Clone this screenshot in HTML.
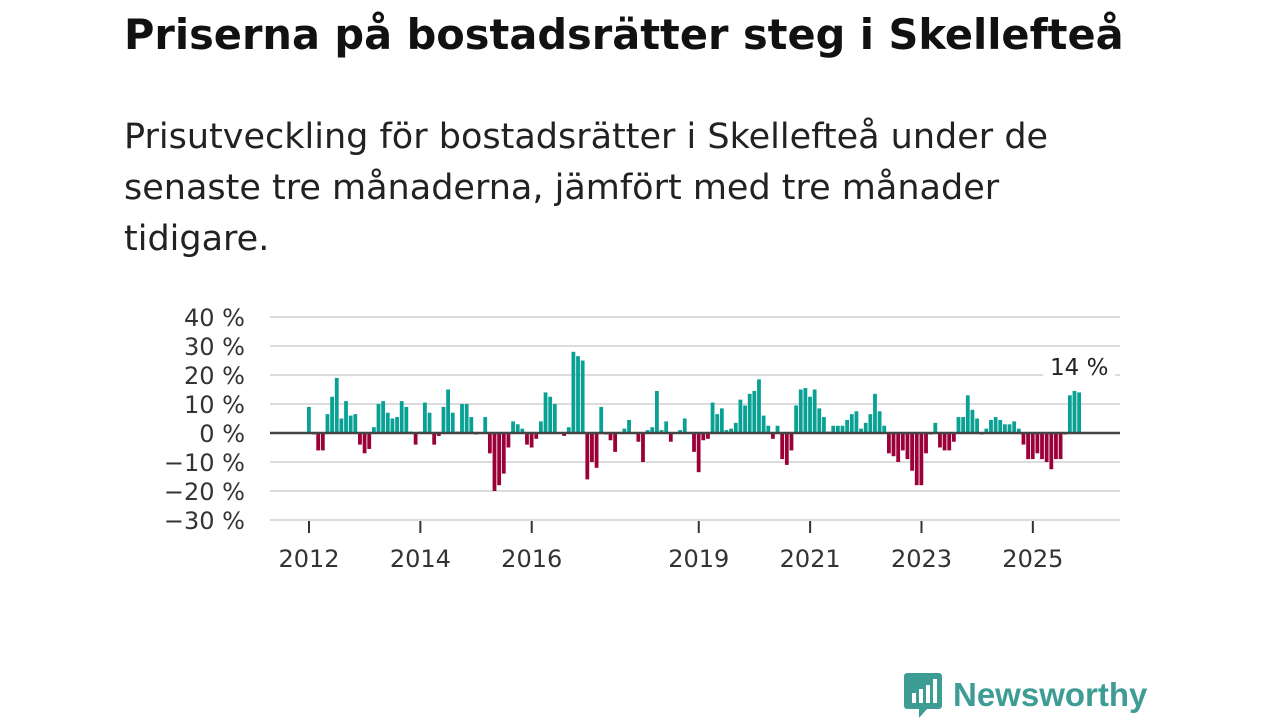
<!DOCTYPE html>
<html><head><meta charset="utf-8">
<style>
body{margin:0;width:1280px;height:720px;background:#fff;overflow:hidden;font-family:"DejaVu Sans","Liberation Sans",sans-serif;}
#title{position:absolute;left:124px;top:10px;font-size:41.5px;font-weight:bold;color:#111;margin:0;white-space:nowrap}
#sub{position:absolute;left:124px;top:112px;font-size:35px;line-height:51px;color:#222;margin:0;white-space:nowrap}
svg{position:absolute;left:0;top:0}
#logo{position:absolute;left:903px;top:671px;display:flex;align-items:center}
#logo span{font-size:33px;font-weight:bold;color:#3d9c93;margin-left:10px;font-family:"Liberation Sans",sans-serif}
</style></head><body>
<h1 id="title">Priserna på bostadsrätter steg i Skellefteå</h1>
<p id="sub">Prisutveckling för bostadsrätter i Skellefteå under de<br>senaste tre månaderna, jämfört med tre månader<br>tidigare.</p>
<svg id="chart" width="1280" height="720"></svg>
<div id="logo">
<svg width="40" height="48" style="position:static"><path d="M4 2h32a3 3 0 0 1 3 3v30a3 3 0 0 1-3 3H24l-8 9v-9H4a3 3 0 0 1-3-3V5a3 3 0 0 1 3-3z" fill="#3d9c93"/><rect x="9" y="22" width="4" height="10" fill="#fff"/><rect x="16" y="18" width="4" height="14" fill="#fff"/><rect x="23" y="14" width="4" height="18" fill="#fff"/><rect x="30" y="8" width="4" height="24" fill="#fff"/></svg>
<span>Newsworthy</span></div>
<script>
const values=[9,-0.5,-6,-6,6.5,12.5,19,5,11,6,6.5,-4,-7,-5.5,2,10,11,7,5,5.5,11,9,0.5,-4,0.5,10.5,7,-4,-1,9,15,7,0.5,10,10,5.5,-0.5,0,5.5,-7,-20,-18,-14,-5,4,3,1.5,-4,-5,-2,4,14,12.5,10,0,-1,2,28,26.5,25,-16,-10,-12,9,-0.5,-2.5,-6.5,0,1.5,4.5,0,-3,-10,1,2,14.5,1,4,-3,0,1,5,0,-6.5,-13.5,-2.5,-2,10.5,6.5,8.5,1,1.5,3.5,11.5,9.5,13.5,14.5,18.5,6,2.5,-2,2.5,-9,-11,-6,9.5,15,15.5,12.5,15,8.5,5.5,0.5,2.5,2.5,2.5,4.5,6.5,7.5,1.5,3.5,6.5,13.5,7.5,2.5,-7,-8,-10,-6,-9,-13,-18,-18,-7,-0.5,3.5,-5,-6,-6,-3,5.5,5.5,13,8,5,-0.5,1.5,4.5,5.5,4.5,3,3,4,1.5,-4,-9,-9,-7,-9,-10,-12.5,-9,-9,-0.5,13,14.5,14];
const yTicks=[40,30,20,10,0,-10,-20,-30];
const xYears=[2012,2014,2016,2019,2021,2023,2025];
const startYear=2012;
const svg=document.getElementById('chart');
const NS='http://www.w3.org/2000/svg';
const y=v=>433-v*2.9;
const x=i=>309+i*4.64;
const FONT='DejaVu Sans, Liberation Sans, sans-serif';
function mk(t,a){const e=document.createElementNS(NS,t);for(const k in a)e.setAttribute(k,a[k]);svg.appendChild(e);return e;}
yTicks.forEach(t=>{
 const l=mk('line',{x1:270,x2:1120,y1:y(t),y2:y(t),stroke:'#dcdcdc','stroke-width':2});
 
 
 const tx=mk('text',{x:245,y:y(t)+9,'text-anchor':'end','font-size':24,fill:'#333','font-family':FONT});
 tx.textContent=(t<0?'\u2212'+(-t):t)+' %';
 
 
});
values.forEach((v,i)=>{
 const r=mk('rect',{x:x(i)-2,width:3.8,y:Math.min(y(v),433),height:Math.abs(y(v)-433),fill:v>=0?'#0aa195':'#9b0039'});
 
 
});
const z=mk('line',{x1:270,x2:1120,y1:433,y2:433,stroke:'#444','stroke-width':2.5});


xYears.forEach(yr=>{
 const px=x((yr-startYear)*12);
 const tk=mk('line',{x1:px,x2:px,y1:521,y2:533,stroke:'#333','stroke-width':2});
 
 
 const tx=mk('text',{x:px,y:567,'text-anchor':'middle','font-size':24,fill:'#333','font-family':FONT});
 tx.textContent=yr;
 
 
});
const last=values.length-1;
const bg=mk('rect',{x:x(last)-36,y:352,width:72,height:26,fill:'#fff'});


const lab=mk('text',{x:x(last),y:375,'text-anchor':'middle','font-size':23,fill:'#222','font-family':FONT});
lab.textContent=Math.round(values[last])+' %';


</script>
</body></html>
